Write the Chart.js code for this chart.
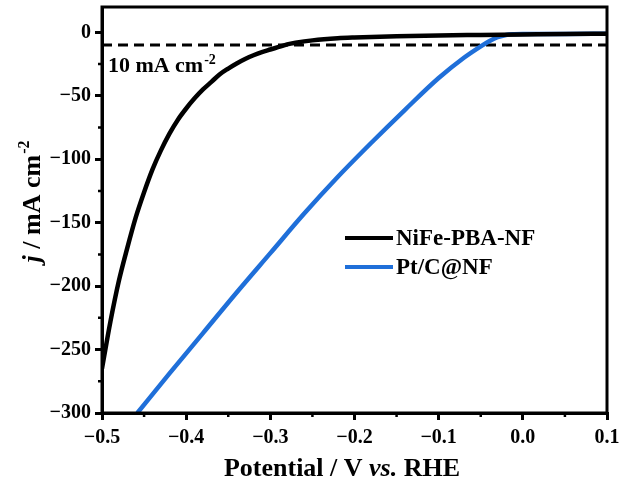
<!DOCTYPE html>
<html>
<head>
<meta charset="utf-8">
<script src="https://cdn.jsdelivr.net/npm/chart.js@4"></script>
<style>
  body { margin: 0; background: #fff; }
  #wrap { width: 622px; height: 482px; }
</style>
</head>
<body>
<div id="wrap"><canvas id="lsv"></canvas></div>
<script>
// NiFe-PBA-NF polarisation curve (V vs RHE, mA cm-2)
const nifePot = [-0.5, -0.49, -0.48, -0.47, -0.46, -0.45, -0.44, -0.43, -0.42, -0.41, -0.4, -0.39, -0.38, -0.37,
  -0.36, -0.35, -0.34, -0.33, -0.32, -0.31, -0.3, -0.29, -0.28, -0.27, -0.25, -0.22, -0.2, -0.15, -0.1, -0.05, 0, 0.05, 0.1];
const nifeJ = [-265, -228, -196, -170, -146, -126, -108, -93, -80, -69, -60, -52, -45, -39,
  -33, -28.5, -24.5, -21, -18, -15.5, -13.5, -11.5, -9.5, -8.2, -6.3, -4.6, -4, -3, -2.4, -2, -1.6, -1.2, -1];

// Pt/C@NF
const ptcPot = [-0.458, -0.42, -0.38, -0.34, -0.3, -0.26, -0.22, -0.18, -0.14, -0.1, -0.07, -0.05, -0.04,
  -0.03, -0.02, -0.01, 0, 0.05, 0.1];
const ptcJ = [-300, -269, -237, -205, -174, -143, -114, -87, -61, -36, -20, -11, -7,
  -3.8, -2, -1.5, -1.3, -1.2, -1.1];

// 10 mA cm-2 reference line
const refPot = [-0.5, 0.1];
const refJ = [-10, -10];

const seriesNames = ['NiFe-PBA-NF', 'Pt/C@NF'];
const xMajor = [-0.5, -0.4, -0.3, -0.2, -0.1, 0.0, 0.1];
const xMinor = [-0.45, -0.35, -0.25, -0.15, -0.05, 0.05];
const yMajor = [-300, -250, -200, -150, -100, -50, 0];
const yMinor = [-275, -225, -175, -125, -75, -25];

const FONT = '"Liberation Serif", "Times New Roman", serif';
const BLUE = '#1f6fd9';

function pts(xs, ys) {
  return xs.map((x, i) => ({ x: x, y: ys[i] }));
}

// frame, minor ticks, legend, note and axis titles
const extras = {
  id: 'extras',
  afterDraw(chart) {
    const ctx = chart.ctx;
    const a = chart.chartArea;
    const xs = chart.scales.x, ys = chart.scales.y;
    ctx.save();
    ctx.strokeStyle = '#000';
    ctx.lineWidth = 3;
    ctx.strokeRect(a.left, a.top, a.right - a.left, a.bottom - a.top);

    // minor ticks
    ctx.lineWidth = 2.5;
    ctx.beginPath();
    xMinor.forEach(v => {
      const px = xs.getPixelForValue(v);
      ctx.moveTo(px, a.bottom);
      ctx.lineTo(px, a.bottom + 4);
    });
    yMinor.forEach(v => {
      const py = ys.getPixelForValue(v);
      ctx.moveTo(a.left, py);
      ctx.lineTo(a.left - 4, py);
    });
    ctx.stroke();

    // legend
    ctx.font = 'bold 23px ' + FONT;
    ctx.textBaseline = 'middle';
    ctx.textAlign = 'left';
    const rows = [238, 267];
    chart.data.datasets.slice(0, 2).forEach((ds, i) => {
      ctx.strokeStyle = ds.borderColor;
      ctx.lineWidth = 4;
      ctx.beginPath();
      ctx.moveTo(345, rows[i]);
      ctx.lineTo(393, rows[i]);
      ctx.stroke();
      ctx.fillStyle = '#000';
      ctx.fillText(ds.label, 396, rows[i] + 1);
    });

    // 10 mA cm-2 note
    ctx.textBaseline = 'alphabetic';
    ctx.font = 'bold 22px ' + FONT;
    const nx = xs.getPixelForValue(-0.493);
    const ny = ys.getPixelForValue(-31.5);
    ctx.fillText('10 mA cm', nx, ny);
    const w = ctx.measureText('10 mA cm').width;
    ctx.font = 'bold 14px ' + FONT;
    ctx.fillText('-2', nx + w + 1, ny - 8);

    // x title
    ctx.font = 'bold 26px ' + FONT;
    const p1 = 'Potential / V ', p2 = 'vs.', p3 = ' RHE';
    const w1 = ctx.measureText(p1).width;
    const w3 = ctx.measureText(p3).width;
    ctx.font = 'italic bold 26px ' + FONT;
    const w2 = ctx.measureText(p2).width;
    const sx = 342 - (w1 + w2 + w3) / 2;
    const by = 476;
    ctx.font = 'bold 26px ' + FONT;
    ctx.fillText(p1, sx, by);
    ctx.font = 'italic bold 26px ' + FONT;
    ctx.fillText(p2, sx + w1, by);
    ctx.font = 'bold 26px ' + FONT;
    ctx.fillText(p3, sx + w1 + w2, by);

    // y title
    ctx.translate(40, 202);
    ctx.rotate(-Math.PI / 2);
    ctx.font = 'italic bold 26px ' + FONT;
    const q1 = 'j';
    const wq1 = ctx.measureText(q1).width;
    ctx.font = 'bold 26px ' + FONT;
    const q2 = ' / mA cm';
    const wq2 = ctx.measureText(q2).width;
    ctx.font = 'bold 16px ' + FONT;
    const wq3 = ctx.measureText('-2').width;
    const tx = -(wq1 + wq2 + wq3) / 2;
    ctx.font = 'italic bold 26px ' + FONT;
    ctx.fillText(q1, tx, 0);
    ctx.font = 'bold 26px ' + FONT;
    ctx.fillText(q2, tx + wq1, 0);
    ctx.font = 'bold 16px ' + FONT;
    ctx.fillText('-2', tx + wq1 + wq2 + 1, -11);
    ctx.restore();
  }
};

const minus = v => String(v).replace('-', '\u2212');

new Chart(document.getElementById('lsv'), {
  type: 'scatter',
  data: {
    datasets: [
      {
        label: seriesNames[0],
        data: pts(nifePot, nifeJ),
        showLine: true,
        borderColor: '#000',
        borderWidth: 4.5,
        pointRadius: 0,
        cubicInterpolationMode: 'monotone'
      },
      {
        label: seriesNames[1],
        data: pts(ptcPot, ptcJ),
        showLine: true,
        borderColor: BLUE,
        borderWidth: 4.5,
        pointRadius: 0,
        cubicInterpolationMode: 'monotone'
      },
      {
        label: 'ref',
        data: pts(refPot, refJ),
        showLine: true,
        borderColor: '#000',
        borderWidth: 3,
        borderDash: [10, 6],
        pointRadius: 0
      }
    ]
  },
  options: {
    responsive: true,
    maintainAspectRatio: false,
    animation: false,
    layout: { padding: { top: 7, right: 15, left: 0, bottom: 0 } },
    plugins: { legend: { display: false }, tooltip: { enabled: false } },
    scales: {
      x: {
        type: 'linear',
        min: -0.5,
        max: 0.1,
        afterFit: s => { s.height = 69; s.paddingLeft = 0; s.paddingRight = 0; },
        afterBuildTicks: s => { s.ticks = xMajor.map(v => ({ value: v })); },
        border: { display: true, color: '#000', width: 3 },
        grid: { drawOnChartArea: false, drawTicks: true, tickLength: 7, color: '#000', lineWidth: 3 },
        ticks: {
          color: '#000',
          font: { family: FONT, size: 20, weight: 'bold' },
          padding: 6,
          maxRotation: 0,
          autoSkip: false,
          callback: v => minus(v.toFixed(1))
        }
      },
      y: {
        type: 'linear',
        min: -300,
        max: 20,
        afterFit: s => { s.width = 102; s.paddingTop = 0; s.paddingBottom = 0; },
        afterBuildTicks: s => { s.ticks = yMajor.map(v => ({ value: v })); },
        border: { display: true, color: '#000', width: 3 },
        grid: { drawOnChartArea: false, drawTicks: true, tickLength: 7, color: '#000', lineWidth: 3 },
        ticks: {
          color: '#000',
          font: { family: FONT, size: 20, weight: 'bold' },
          padding: 4,
          autoSkip: false,
          callback: v => minus(v)
        }
      }
    }
  },
  plugins: [extras]
});
</script>
</body>
</html>
